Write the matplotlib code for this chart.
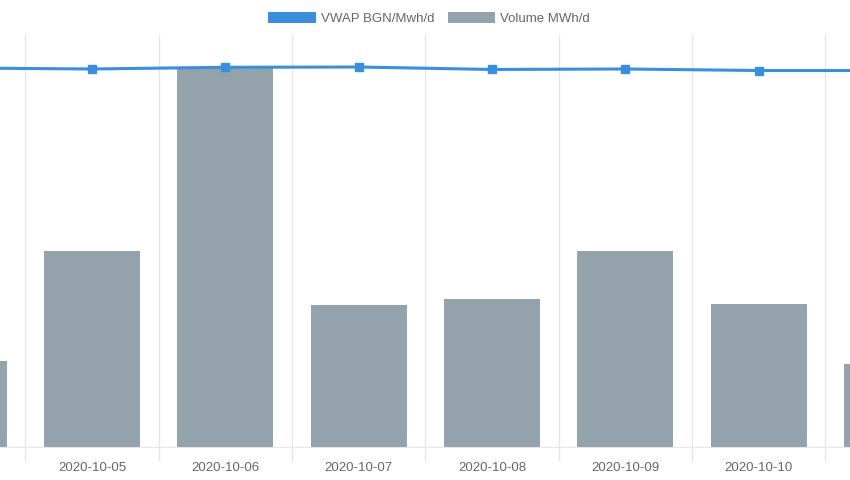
import numpy as np
import matplotlib.pyplot as plt
from matplotlib.patches import Patch

plt.rcParams['font.family'] = ['Liberation Sans', 'DejaVu Sans']

# data (10-04 and 10-11 are cut off at the edges)
dates = ["2020-10-04", "2020-10-05", "2020-10-06", "2020-10-07",
         "2020-10-08", "2020-10-09", "2020-10-10", "2020-10-11"]
volume = [835, 1903, 3680, 1379, 1437, 1903, 1390, 806]
vwap = [55.2, 55.05, 55.3, 55.34, 54.98, 55.05, 54.83, 54.83]

bar_color = "#94a2ac"
line_color = "#3a8fdd"
grid_color = "#e6e6e6"

fig = plt.figure(figsize=(8.5, 4.8), dpi=100)
ax = fig.add_axes([0, 33 / 480, 1, 412 / 480])

x = np.arange(len(dates))
ax.bar(x, volume, width=0.72, color=bar_color, zorder=2)
ax.set_ylim(0, 4000)

# labels at the clipped edges are not shown in the original
ax.set_xticks(x[1:-1])
ax.set_xticklabels(dates[1:-1], fontsize=9.5, color="#666666")
ax.set_xticks(x[:-1] + 0.5, minor=True)
ax.tick_params(axis="x", which="major", length=0, pad=11)
ax.tick_params(axis="x", which="minor", length=10, color=grid_color, width=1)
ax.grid(True, which="minor", axis="x", color=grid_color, lw=1, zorder=0)
ax.set_yticks([])
for s in ["left", "right", "top"]:
    ax.spines[s].set_visible(False)
ax.spines["bottom"].set_color(grid_color)

ax2 = ax.twinx()
ax2.plot(x, vwap, color=line_color, lw=2.2, marker="s", markersize=6, zorder=3)
ax2.set_ylim(0, 60)
ax2.set_yticks([])
for s in ax2.spines.values():
    s.set_visible(False)
ax.set_xlim(0.31, 6.685)

handles = [Patch(facecolor=line_color, label="VWAP BGN/Mwh/d"),
           Patch(facecolor=bar_color, label="Volume MWh/d")]
fig.legend(handles=handles, loc="upper center", bbox_to_anchor=(0.505, 1.0), ncol=2,
           frameon=False, fontsize=9.5, handlelength=3.6, handleheight=0.9,
           handletextpad=0.4, columnspacing=1.0, labelcolor="#666666")

fig.savefig("out.png", dpi=100)
